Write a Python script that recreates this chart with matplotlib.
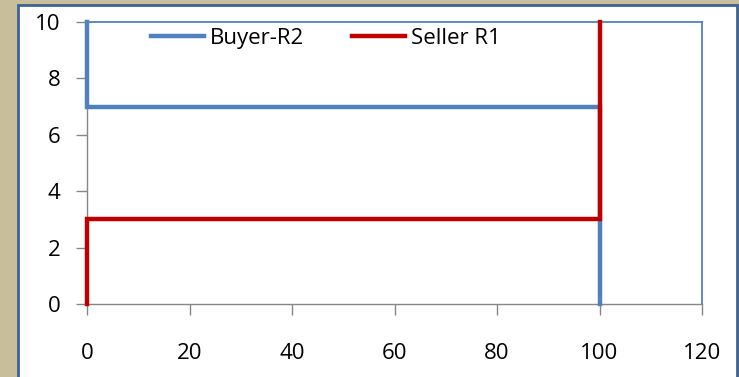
import matplotlib
matplotlib.use("Agg")
import matplotlib.pyplot as plt
from matplotlib.patches import Rectangle

# Step curves for the two bids
buyer_x = [0, 0, 100, 100]
buyer_y = [10, 7, 7, 0]
seller_x = [0, 0, 100, 100]
seller_y = [0, 3, 3, 10]

x_ticks = [0, 20, 40, 60, 80, 100, 120]
y_ticks = [0, 2, 4, 6, 8, 10]

BLUE = "#4F81BD"
RED = "#C00000"
GREY = "#868686"
FS = 16

plt.rcParams["font.family"] = ["Open Sans", "DejaVu Sans"]

fig = plt.figure(figsize=(7.39, 3.77), dpi=100)
fig.patch.set_facecolor("#C8BE9B")

# white chart panel with a dark blue frame
W, H = 739, 377
panel = Rectangle((18 / W, -0.05), (737 - 18) / W, (1 - 5 / H) + 0.05,
                  transform=fig.transFigure, facecolor="white",
                  edgecolor="#3F6393", linewidth=2, zorder=-1)
fig.patches.append(panel)

ax = fig.add_axes([87 / W, 1 - 304 / H, (702 - 87) / W, (304 - 22) / H])
ax.set_facecolor("white")

ax.plot(buyer_x, buyer_y, color=BLUE, lw=3.2, label="Buyer-R2",
        clip_on=False, solid_joinstyle="miter", zorder=3)
ax.plot(seller_x, seller_y, color=RED, lw=3.2, label="Seller R1",
        clip_on=False, solid_joinstyle="miter", zorder=4)

ax.set_xlim(0, 120)
ax.set_ylim(0, 10)
ax.set_xticks(x_ticks)
ax.set_yticks(y_ticks)
ax.tick_params(axis="both", direction="out", length=8, width=1,
               color=GREY, labelsize=FS, labelcolor="black")
ax.tick_params(axis="x", pad=20)
ax.tick_params(axis="y", pad=11)

for side in ("left", "bottom"):
    ax.spines[side].set_color(GREY)
    ax.spines[side].set_linewidth(1)
for side in ("top", "right"):
    ax.spines[side].set_color(BLUE)
    ax.spines[side].set_linewidth(1.3)

ax.legend(loc="center left", bbox_to_anchor=(0.104, 0.943), ncol=2,
          frameon=False, fontsize=FS, handlelength=2.4, handletextpad=0.25,
          columnspacing=2.15, borderpad=0, borderaxespad=0)

fig.savefig("out.png", dpi=100, facecolor=fig.get_facecolor())
